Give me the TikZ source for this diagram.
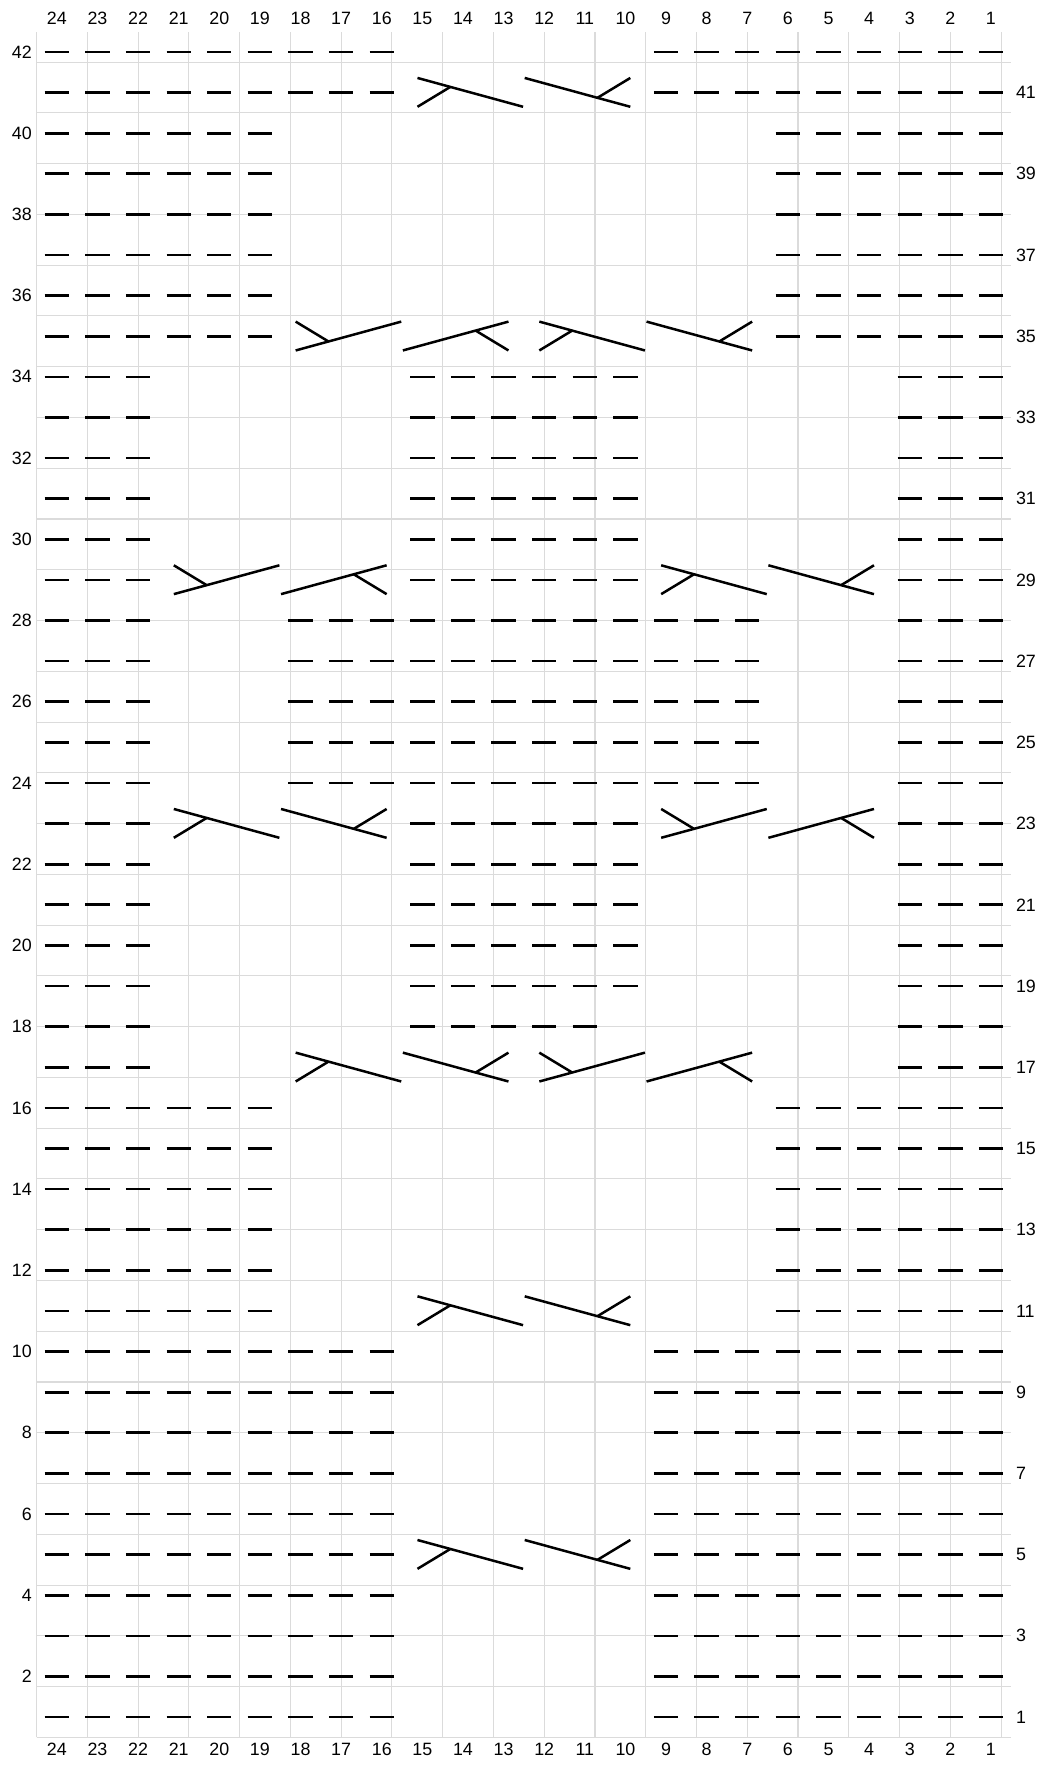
\documentclass[tikz,border=0pt]{standalone}
\usepackage{fontspec}
\setmainfont{Liberation Sans}
\usepackage{tikz}
\tikzstyle{gridline} = [draw=black!14, line width=0.6pt]
\tikzstyle{purl} = [draw, line width=1.5pt]
\tikzstyle{cable} = [draw, line width=1.4pt]
\tikzstyle{lbl} = [font=\fontsize{10}{12}\selectfont, inner sep=0pt]
% purl dashes: rows #1, columns #2
\newcommand{\purls}[2]{\foreach \r in {#1}{\foreach \c in {#2}{\path[purl] ({24.2-\c},{\r-0.5}) -- ++(0.6,0);}}}
% 3-stitch crosses, #1 = leftmost column, #2 = row
\newcommand{\cabA}[2]{\begin{scope}[shift={({24-#1},{#2-1})}]
  \path[cable] (0.38,0.86) -- (2.98,0.15); \path[cable] (0.38,0.15) -- (1.19,0.64);
  \end{scope}}
\newcommand{\cabB}[2]{\begin{scope}[shift={({24-#1},{#2-1})}]
  \path[cable] (0.02,0.86) -- (2.62,0.15); \path[cable] (2.62,0.86) -- (1.81,0.37);
  \end{scope}}
\newcommand{\cabC}[2]{\begin{scope}[shift={({24-#1},{#2-1})}]
  \path[cable] (0.38,0.15) -- (2.98,0.86); \path[cable] (0.38,0.86) -- (1.19,0.37);
  \end{scope}}
\newcommand{\cabD}[2]{\begin{scope}[shift={({24-#1},{#2-1})}]
  \path[cable] (0.02,0.15) -- (2.62,0.86); \path[cable] (2.62,0.15) -- (1.81,0.64);
  \end{scope}}
\begin{document}
\begin{tikzpicture}[x=0.8cm, y=0.8cm]
\useasboundingbox (-0.90,-0.68) rectangle (24.90,42.78);
\path[gridline] (0,0) grid (24,42);

% column and row numbers
\foreach \c in {1,...,24} {
  \node[lbl] (top\c) at ({24.5-\c},42.33) {\c};
  \node[lbl] (bot\c) at ({24.5-\c},-0.29) {\c};
}
\foreach \r in {2,4,...,42}
  \node[lbl, anchor=east] (left\r) at (-0.11,{\r-0.5}) {\r};
\foreach \r in {1,3,...,41}
  \node[lbl, anchor=west] (right\r) at (24.11,{\r-0.5}) {\r};

% purl stitches
\purls{1,...,10,41,42}{1,...,9}
\purls{1,...,10,41,42}{16,...,24}
\purls{11,...,16,35,36,...,40}{1,...,6}
\purls{11,...,16,35,36,...,40}{19,...,24}
\purls{17,...,34}{1,2,3}
\purls{17,...,34}{22,23,24}
\purls{18}{11,...,15}
\purls{19,...,23}{10,...,15}
\purls{29,...,34}{10,...,15}
\purls{24,...,28}{7,...,18}

% crosses
\cabA{15}{5}  \cabB{12}{5}
\cabA{15}{11} \cabB{12}{11}
\cabA{18}{17} \cabB{15}{17} \cabC{12}{17} \cabD{9}{17}
\cabA{21}{23} \cabB{18}{23} \cabC{9}{23}  \cabD{6}{23}
\cabC{21}{29} \cabD{18}{29} \cabA{9}{29}  \cabB{6}{29}
\cabC{18}{35} \cabD{15}{35} \cabA{12}{35} \cabB{9}{35}
\cabA{15}{41} \cabB{12}{41}
\end{tikzpicture}
\end{document}
